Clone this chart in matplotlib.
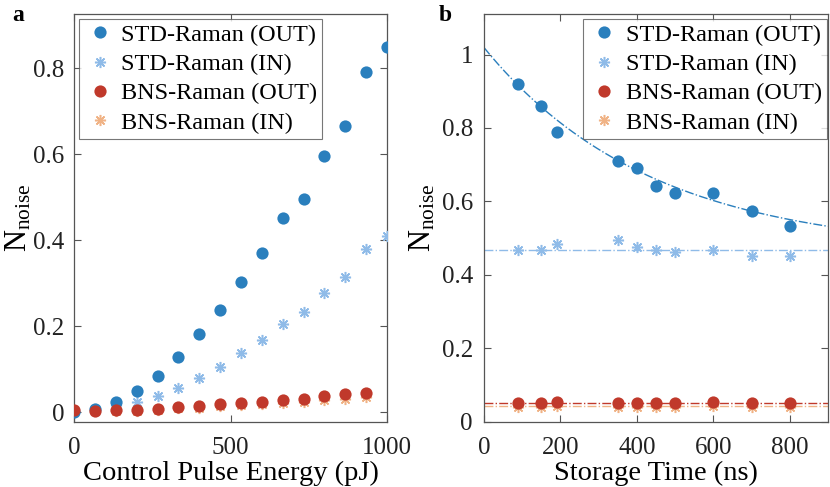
import numpy as np
import matplotlib
matplotlib.use('Agg')
import matplotlib.pyplot as plt
from matplotlib.ticker import FuncFormatter

plt.rcParams['font.family'] = ['Liberation Serif', 'DejaVu Serif']
plt.rcParams['mathtext.fontset'] = 'custom'
plt.rcParams['mathtext.rm'] = 'Liberation Serif'
plt.rcParams['mathtext.it'] = 'Liberation Serif:italic'

# panel a: noise vs control pulse energy
energy = [0, 66.7, 133.3, 200, 266.7, 333.3, 400, 466.7, 533.3, 600,
          666.7, 733.3, 800, 866.7, 933.3, 1000]
std_out_a = [0.001, 0.008, 0.025, 0.050, 0.085, 0.129, 0.182, 0.238, 0.302, 0.370,
             0.453, 0.497, 0.597, 0.666, 0.792, 0.850]
std_in_a = [0.002, 0.007, 0.016, 0.023, 0.038, 0.057, 0.080, 0.105, 0.137, 0.167,
            0.206, 0.233, 0.277, 0.314, 0.379, 0.411]
energy_bns = energy[:-1]
bns_out_a = [0.005, 0.004, 0.005, 0.006, 0.008, 0.012, 0.015, 0.019, 0.022, 0.025,
             0.028, 0.032, 0.037, 0.042, 0.046]
bns_in_a = [0.003, 0.003, 0.004, 0.004, 0.006, 0.009, 0.011, 0.014, 0.016, 0.019,
            0.021, 0.025, 0.029, 0.032, 0.035]

# panel b: noise vs storage time
storage = [90, 150, 190, 350, 400, 450, 500, 600, 700, 800]
std_out_b = [0.921, 0.859, 0.789, 0.711, 0.691, 0.642, 0.624, 0.622, 0.574, 0.533]
std_in_b = [0.469, 0.468, 0.485, 0.495, 0.475, 0.469, 0.462, 0.469, 0.451, 0.451]
bns_out_b = [0.052, 0.052, 0.053, 0.052, 0.052, 0.051, 0.051, 0.053, 0.051, 0.052]
bns_in_b = [0.041, 0.041, 0.042, 0.041, 0.041, 0.041, 0.040, 0.042, 0.041, 0.041]

# fit parameters (exponential decay + constant) and flat levels
fit_amp, fit_tau, fit_off = 0.558, 437.0, 0.461
std_in_level = 0.469
bns_out_level = 0.051
bns_in_level = 0.044

labels = ['STD-Raman (OUT)', 'STD-Raman (IN)', 'BNS-Raman (OUT)', 'BNS-Raman (IN)']
c_std_out = '#2a7fbd'
c_std_in = '#8fbbe8'
c_bns_out = '#c0392b'
c_bns_in = '#f0b386'
spine_col = '#555555'
star = (8, 2, 0)
ms_dot = 8.8
ms_star = 8.0


def style_axes(ax):
    for s in ax.spines.values():
        s.set_color(spine_col)
        s.set_linewidth(0.9)
    ax.tick_params(direction='in', top=True, right=True, labelsize=18,
                   color=spine_col, length=5, labelcolor='#222222')
    ax.tick_params(axis='x', pad=11)
    ax.tick_params(axis='y', pad=8)


def add_legend(ax, loc, anchor):
    leg = ax.legend(loc=loc, bbox_to_anchor=anchor, fontsize=17.5, frameon=True,
                    fancybox=False, handletextpad=0.25, borderaxespad=0.2,
                    labelspacing=0.3, handlelength=1.3, borderpad=0.2)
    leg.get_frame().set_edgecolor('#555555')
    leg.get_frame().set_linewidth(0.8)


def draw_series(ax, xo, so, xi, si, xbo, bo, xbi, bi):
    ax.plot(xo, so, 'o', color=c_std_out, ms=ms_dot, mec='none', label=labels[0], zorder=4)
    ax.plot(xi, si, ls='none', marker=star, color=c_std_in, ms=ms_star, mew=1.1,
            label=labels[1], zorder=3)
    ax.plot(xbo, bo, 'o', color=c_bns_out, ms=ms_dot, mec='none', label=labels[2], zorder=5)
    ax.plot(xbi, bi, ls='none', marker=star, color=c_bns_in, ms=ms_star, mew=1.1,
            label=labels[3], zorder=3)


fmt = FuncFormatter(lambda v, p: ('%g' % round(v, 3)))

fig = plt.figure(figsize=(8.3, 4.87), dpi=100)
ax1 = fig.add_axes([0.0892, 0.134, 0.3771, 0.837])
ax2 = fig.add_axes([0.5831, 0.134, 0.4145, 0.837])

# panel a
draw_series(ax1, energy, std_out_a, energy, std_in_a,
            energy_bns, bns_out_a, energy_bns, bns_in_a)
ax1.set_xlim(0, 1000)
ax1.set_ylim(-0.022, 0.926)
ax1.set_xticks([0, 500, 1000])
ax1.set_yticks([0, 0.2, 0.4, 0.6, 0.8])
ax1.yaxis.set_major_formatter(fmt)
ax1.set_xlabel('Control Pulse Energy (pJ)', fontsize=20.5, labelpad=1)
ax1.set_ylabel(r'N$_{\mathrm{noise}}$', fontsize=22, labelpad=0)
style_axes(ax1)
ax1.tick_params(axis='y', pad=7)
add_legend(ax1, 'upper left', (0.0, 1.0))

# panel b
tt = np.linspace(0, 900, 300)
ax2.plot(tt, fit_amp * np.exp(-tt / fit_tau) + fit_off, '-.', color=c_std_out, lw=1.0, zorder=2)
ax2.axhline(std_in_level, ls='-.', color=c_std_in, lw=1.0, zorder=2)
ax2.axhline(bns_out_level, ls='-.', color=c_bns_out, lw=1.0, zorder=2)
ax2.axhline(bns_in_level, ls='-.', color=c_bns_in, lw=1.0, zorder=2)
draw_series(ax2, storage, std_out_b, storage, std_in_b,
            storage, bns_out_b, storage, bns_in_b)
ax2.set_xlim(0, 900)
ax2.set_ylim(0, 1.11)
ax2.set_xticks([0, 200, 400, 600, 800])
ax2.set_yticks([0, 0.2, 0.4, 0.6, 0.8, 1.0])
ax2.yaxis.set_major_formatter(fmt)
ax2.set_xlabel('Storage Time (ns)', fontsize=20.5, labelpad=1)
ax2.set_ylabel(r'N$_{\mathrm{noise}}$', fontsize=22, labelpad=3)
style_axes(ax2)
add_legend(ax2, 'upper right', (1.011, 1.0))

fig.text(0.015, 0.968, 'a', fontsize=17, fontweight='bold', va='center')
fig.text(0.528, 0.968, 'b', fontsize=17, fontweight='bold', va='center')

fig.savefig('out.png', dpi=100)
